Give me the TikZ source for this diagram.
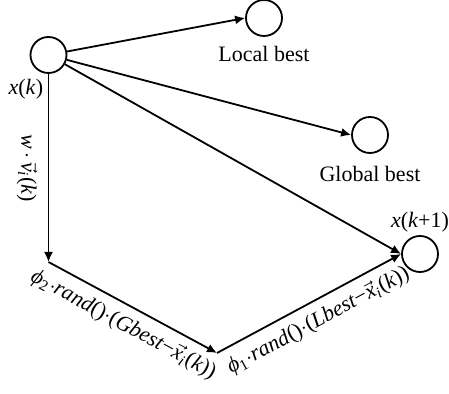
\documentclass[tikz,border=0pt]{standalone}
\usepackage{fontspec}
\setmainfont{Liberation Serif}
\usetikzlibrary{positioning,arrows.meta}

\begin{document}
\begin{tikzpicture}[x=0.5pt,y=-0.5pt,
  particle/.style={circle,draw,line width=0.9pt,minimum size=18pt,inner sep=0pt},
  lbl/.style={inner sep=1pt,font=\fontsize{11}{13}\selectfont},
  arr/.style={line width=0.9pt,-{Latex[length=5pt,width=4.5pt]}}]
\useasboundingbox (0,0) rectangle (449,394);
% particles
\node[particle] (xk) at (48.5,55) {};
\node[particle] (lbest) at (264,18) {};
\node[particle] (gbest) at (370,135) {};
\node[particle] (xk1) at (420,254) {};
\coordinate (c1) at (48.5,262);
\coordinate (c2) at (217,353);
% labels
\node[lbl,below=3.5pt of lbest] (lbesttxt) {Local best};
\node[lbl,below=5pt of gbest] (gbesttxt) {Global best};
\node[lbl,above=0.5pt of xk1] (xk1txt) {\textit{x}(\textit{k}+1)};
\node[lbl,anchor=north east] (xktxt) at ([xshift=-1.5pt,yshift=-1.5pt]xk.south) {\textit{x}(\textit{k})};
% arrows
\draw[arr] (xk) -- (lbest.west);
\draw[arr] (xk) -- (gbest.west);
\draw[arr] (xk) -- (xk1.west);
\draw[arr] (xk.south) -- node[lbl,midway,sloped,below=4pt] (inertia) {\textit{w}\,$\cdot$\,$\vec{\mbox{\textit{v}}}$\textsubscript{\textit{i}}(\textit{k})} (c1);
\draw[arr] (c1) -- node[lbl,midway,sloped,below=3pt] (social) {\textit{ϕ}\textsubscript{2}$\cdot$\textit{rand}()$\cdot$(\textit{Gbest}−$\vec{\mbox{\textit{x}}}$\textsubscript{\textit{i}}(\textit{k}))} (c2);
\draw[arr] (c2) -- node[lbl,midway,sloped,below=3pt] (cognitive) {\textit{ϕ}\textsubscript{1}$\cdot$\textit{rand}()$\cdot$(\textit{Lbest}−$\vec{\mbox{\textit{x}}}$\textsubscript{\textit{i}}(\textit{k}))} (xk1.west);
\end{tikzpicture}
\end{document}
